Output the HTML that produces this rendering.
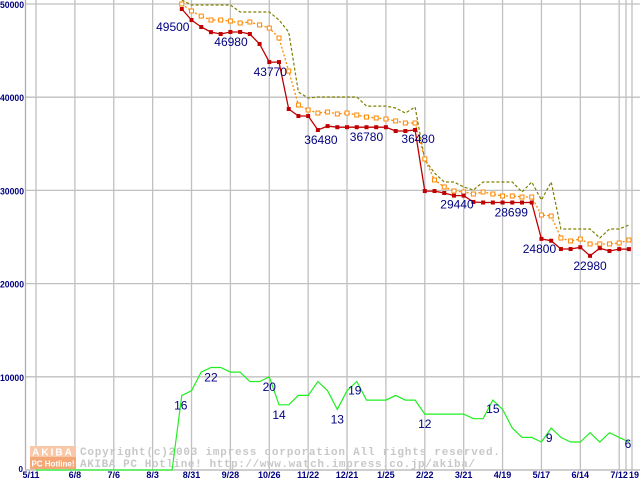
<!DOCTYPE html>
<html><head><meta charset="utf-8"><style>
html,body{margin:0;padding:0;background:#fff;}
svg{display:block;}
text{font-family:"Liberation Sans",sans-serif;}
</style></head><body>
<svg id="chart" width="640" height="480" viewBox="0 0 640 480" xmlns="http://www.w3.org/2000/svg">
<g id="grid"></g>
<g id="wm">
 <rect x="30" y="446" width="46" height="11" fill="#f8c8a8"/>
 <rect x="30" y="457" width="46" height="12" fill="#f4a878"/>
 <text x="53" y="455.5" font-size="10" font-weight="bold" fill="#fff" text-anchor="middle" letter-spacing="2">AKIBA</text>
 <text x="53" y="466.5" font-size="8" font-weight="bold" fill="#fff" text-anchor="middle">PC Hotline!</text>
 <text x="80" y="455" font-size="11" font-weight="bold" fill="#c8c8c8" style="font-family:'Liberation Mono',monospace" textLength="420">Copyright(c)2003 impress corporation All rights reserved.</text>
 <text x="80" y="467" font-size="11" font-weight="bold" fill="#c8c8c8" style="font-family:'Liberation Mono',monospace" textLength="395">AKIBA PC Hotline!  http://www.watch.impress.co.jp/akiba/</text>
</g>
<g id="series"></g>
<g id="labels"></g>
</svg>
<script>
const xTickLabels=["5/11","6/8","7/6","8/3","8/31","9/28","10/26","11/22","12/21","1/25","2/22","3/21","4/19","5/17","6/14","7/12"];
const yTicks=[0,10000,20000,30000,40000,50000];
const startWeek=15;
const minPrice=[49460,48280,47530,46980,46780,47000,47000,46780,45710,43770,43770,38730,37980,37980,36480,36900,36780,36780,36780,36780,36780,36780,36370,36370,36480,29930,29930,29720,29440,29440,28760,28699,28699,28699,28699,28699,28699,24800,24600,23710,23710,23900,22980,23800,23500,23700,23700];
const avgPrice=[50000,49250,48700,48280,48280,48170,47960,48070,47750,47420,46350,42810,39160,38630,38300,38410,38200,38300,38090,37870,37770,37660,37450,37230,37230,33370,31120,30370,29940,29830,29610,29830,29610,29400,29400,29290,29290,27360,27250,24890,24570,24780,24250,24250,24250,24360,24680];
const maxPrice=[50430,49890,49890,49890,49890,49890,49140,49140,49140,49140,48280,47000,40560,39910,40020,40020,40020,40020,40020,39050,39050,39050,38840,38300,38950,33260,31870,30900,30900,30370,30040,30900,30900,30900,30900,29830,30900,28970,30900,25860,25860,25860,25860,24890,25860,25860,26290];
const shopCounts=[0,0,0,0,0,0,0,0,0,0,0,0,0,0,0,16,17,21,22,22,21,21,19,19,20,14,14,16,16,19,17,13,17,19,15,15,15,16,15,15,12,12,12,12,12,11,11,15,13,9,7,7,6,9,7,6,6,8,6,8,7,6];
const priceLabels=[["49500",0,-9,22],["46980",3,20,14],["43770",9,1,14],["36480",14,3,14],["36780",19,0,14],["36480",24,3,13],["29440",28,3,13],["28699",34,-1,14],["24800",37,-2,14],["22980",42,0,14]];
const shopLabels=[["16",15,-1,14],["22",18,0,14],["20",24,0,14],["14",25,0,14],["13",31,0,14],["19",33,-2,13],["12",40,0,14],["15",47,0,13],["9",53,-2,14],["6",61,-1,6]];
const NS="http://www.w3.org/2000/svg";
function xW(w){return 36+w*9.72;}
function yV(v){return 470-v*0.00932;}
function yS(s){return yV(s*500);}
function mk(tag,attrs,parent){const e=document.createElementNS(NS,tag);for(const k in attrs)e.setAttribute(k,attrs[k]);parent.appendChild(e);return e;}
const grid=document.getElementById('grid'),ser=document.getElementById('series'),lab=document.getElementById('labels');
yTicks.forEach((v,i)=>{
  if(v>0){const l=mk('line',{x1:25,x2:640,y1:yV(v),y2:yV(v),stroke:'#c0c0c0','stroke-width':1.3},grid);
  
  }
  const attrs={x:v===0?23:0,y:v===0?yV(v)+2:yV(v)+4,'font-size':v===0?8:9,'font-weight':'bold',fill:'#000080','text-anchor':v===0?'end':'start'};
  if(v>0){attrs.textLength=24;attrs.lengthAdjust='spacingAndGlyphs';}
  const t=mk('text',attrs,grid);
  t.textContent=v;
  
  
});
xTickLabels.forEach((s,i)=>{
  const x=xW(i*4);
  const l=mk('line',{x1:x,x2:x,y1:0,y2:470,stroke:'#c0c0c0','stroke-width':1.3},grid);
  
  
  const t=mk('text',{x:i===0?x-5:x,y:478,'font-size':9,'font-weight':'bold',fill:'#000080','text-anchor':'middle'},grid);
  t.textContent=s;
  
  
});
[626,632].forEach(x=>{const l=mk('line',{x1:x,x2:x,y1:0,y2:470,stroke:'#c0c0c0','stroke-width':1.3},grid);
  
  });
const t19=mk('text',{x:639,y:478,'font-size':9,'font-weight':'bold',fill:'#000080','text-anchor':'end'},grid);
t19.textContent="19";


const ax=mk('line',{x1:25.5,x2:25.5,y1:0,y2:470,stroke:'#b0b0b0','stroke-width':1.3},grid);


const bx=mk('line',{x1:25,x2:640,y1:470,y2:470,stroke:'#b0b0b0','stroke-width':1.3},grid);


function pts(arr,off,f){return arr.map((v,i)=>xW(i+off).toFixed(1)+','+f(v).toFixed(1)).join(' ');}
const g=mk('polyline',{points:pts(shopCounts,0,yS),fill:'none',stroke:'#22ee22','stroke-width':1.2},ser);


const mx=mk('polyline',{points:pts(maxPrice,startWeek,yV),fill:'none',stroke:'#808000','stroke-width':1.2,'stroke-dasharray':'3,2'},ser);


const av=mk('polyline',{points:pts(avgPrice,startWeek,yV),fill:'none',stroke:'#ff8800','stroke-width':1.3,'stroke-dasharray':'2,2'},ser);


avgPrice.forEach((v,i)=>{const r=mk('rect',{x:xW(i+startWeek)-2,y:yV(v)-2,width:4,height:4,fill:'#fff',stroke:'#ff8800','stroke-width':1},ser);
  
  });
const mn=mk('polyline',{points:pts(minPrice,startWeek,yV),fill:'none',stroke:'#c00000','stroke-width':1.3},ser);


minPrice.forEach((v,i)=>{const r=mk('rect',{x:xW(i+startWeek)-2,y:yV(v)-2,width:4,height:4,fill:'#c00000'},ser);
  
  });
priceLabels.forEach(([s,i,dx,dy])=>{
  const t=mk('text',{x:xW(i+startWeek)+dx,y:yV(minPrice[i])+dy,'font-size':12,fill:'#000080','text-anchor':'middle'},lab);
  t.textContent=s;
  
  
});
shopLabels.forEach(([s,i,dx,dy])=>{
  const t=mk('text',{x:xW(i)+dx,y:yS(shopCounts[i])+dy,'font-size':12,fill:'#000080','text-anchor':'middle'},lab);
  t.textContent=s;
  
  
});
</script>
</body></html>
